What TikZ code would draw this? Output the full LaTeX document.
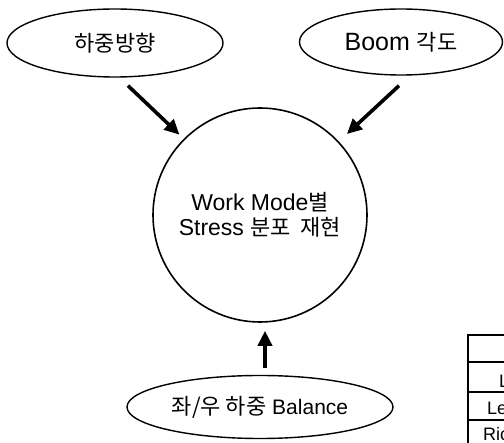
\documentclass[tikz,border=0pt]{standalone}
\usepackage{fontspec}
\setmainfont{Liberation Sans}
\newfontfamily\kr{Noto Sans CJK KR}
\usetikzlibrary{shapes.geometric,arrows.meta}
\tikzset{
  oval/.style={ellipse,draw,line width=1.4pt,inner sep=0pt},
  bigarr/.style={line width=3.6pt,-{Triangle[length=15pt,width=14pt]}},
  tline/.style={line width=1.3pt},
  tx/.style={font=\fontsize{18}{20}\selectfont,inner sep=0pt,anchor=base west},
}
\newcommand{\krt}[1]{{\fontsize{22}{26}\selectfont\kr #1}}
\begin{document}
\begin{tikzpicture}[x=1pt,y=-1pt,font=\fontsize{23}{26}\selectfont]
\fill[white] (0,0) rectangle (504,443);
\useasboundingbox (0,0) rectangle (504,443);
\clip (0,0) rectangle (504,443);
\node[oval,minimum width=216pt,minimum height=68pt] (l) at (115,43) {\krt{하중방향}};
\node[oval,minimum width=203pt,minimum height=66pt,font=\fontsize{25}{28}\selectfont] (r) at (401,42) {Boom \krt{각도}};
\node[circle,draw,line width=1.6pt,minimum size=214pt,inner sep=0pt,align=center] (c) at (260,215)
  {Work Mode\krt{별}\\[-1pt]Stress \krt{분포\ \ 재현}};
\node[oval,minimum width=266pt,minimum height=63pt,font=\fontsize{21}{24}\selectfont] (b) at (260,407) {\krt{좌/우 하중} Balance};
\draw[bigarr,shorten >=6pt] ([xshift=13pt,yshift=-8pt]l.south) -- (c.135);
\draw[bigarr,shorten >=11pt] ([xshift=-2pt,yshift=-10pt]r.south) -- (c.43);
\draw[bigarr,shorten <=7pt,shorten >=8pt] ([xshift=5pt]b.north) -- ([xshift=5pt]c.south);
% partial table at the right edge
\coordinate (t1) at (468,335);
\coordinate (t2) at (520,460);
\draw[tline] (t1 |- t2) -- (t1) -- (t1 -| t2);
\draw[tline] (468,362) -- (520,362);
\draw[tline] (468,392) -- (520,392);
\draw[tline] (468,420) -- (520,420);
\node[tx] (r2) at (499,388) {L};
\node[tx] (r3) at (487,415) {Le};
\node[tx] (r4) at (483,441) {Ric};
\end{tikzpicture}
\end{document}
